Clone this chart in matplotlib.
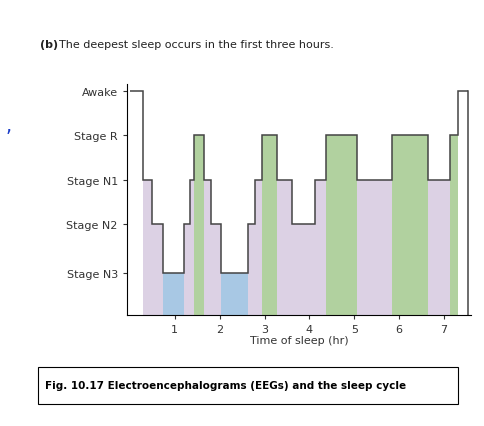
import matplotlib.pyplot as plt
from matplotlib.patches import Rectangle

# stage levels (y positions on the chart)
stage_names = ["Stage N3", "Stage N2", "Stage N1", "Stage R", "Awake"]
stage_y = [1.0, 2.15, 3.2, 4.25, 5.3]

# hypnogram: segment boundaries (hr) and stage of each segment
edges = [0, 0.29, 0.49, 0.74, 1.21, 1.34, 1.43, 1.65, 1.81, 2.03, 2.63, 2.79,
         2.95, 3.28, 3.62, 4.12, 4.38, 5.05, 5.85, 6.64, 7.13, 7.32, 7.53]
stages = ["Awake", "Stage N1", "Stage N2", "Stage N3", "Stage N2", "Stage N1", "Stage R",
          "Stage N1", "Stage N2", "Stage N3", "Stage N2", "Stage N1", "Stage R", "Stage N1",
          "Stage N2", "Stage N1", "Stage R", "Stage N1", "Stage R", "Stage N1", "Stage R", "Awake"]

colors = {"Awake": "white", "Stage R": "#b1d19f", "Stage N1": "#dcd1e4",
          "Stage N2": "#dcd1e4", "Stage N3": "#a8c8e4"}

fig = plt.figure(figsize=(4.84, 4.27), dpi=100)
ax = fig.add_axes([0.262, 0.26, 0.711, 0.54])

levels = [stage_y[stage_names.index(s)] for s in stages]
for i, s in enumerate(stages):
    ax.add_patch(Rectangle((edges[i], 0), edges[i + 1] - edges[i], levels[i],
                           facecolor=colors[s], edgecolor="none"))
ax.stairs(levels, edges, color="#444444", linewidth=1.1, baseline=None)
ax.plot([edges[-1], edges[-1]], [0, levels[-1]], color="#444444", linewidth=1.1)

ax.set_xlim(-0.07, 7.6)
ax.set_ylim(0, 5.45)
ax.set_yticks(stage_y)
ax.set_yticklabels(stage_names, fontsize=8, color="#333333")
ax.set_xticks(range(1, 8))
ax.tick_params(labelsize=8, colors="#333333", length=3, width=0.8)
ax.set_xlabel("Time of sleep (hr)", fontsize=8, color="#333333", labelpad=1)
for sp in ["top", "right"]:
    ax.spines[sp].set_visible(False)
for sp in ["left", "bottom"]:
    ax.spines[sp].set_linewidth(0.8)

fig.text(0.083, 0.888, "(b)", fontsize=8, fontweight="bold", color="#222222")
fig.text(0.122, 0.888, "The deepest sleep occurs in the first three hours.", fontsize=8, color="#222222")
fig.text(0.012, 0.69, ",", fontsize=14, color="#1a3cc8")

fig.add_artist(Rectangle((0.079, 0.052), 0.867, 0.086, transform=fig.transFigure,
                         fill=False, edgecolor="black", linewidth=0.8))
fig.text(0.093, 0.095, "Fig. 10.17 Electroencephalograms (EEGs) and the sleep cycle",
         fontsize=7.5, fontweight="bold", va="center")

fig.savefig("out.png", dpi=100)
